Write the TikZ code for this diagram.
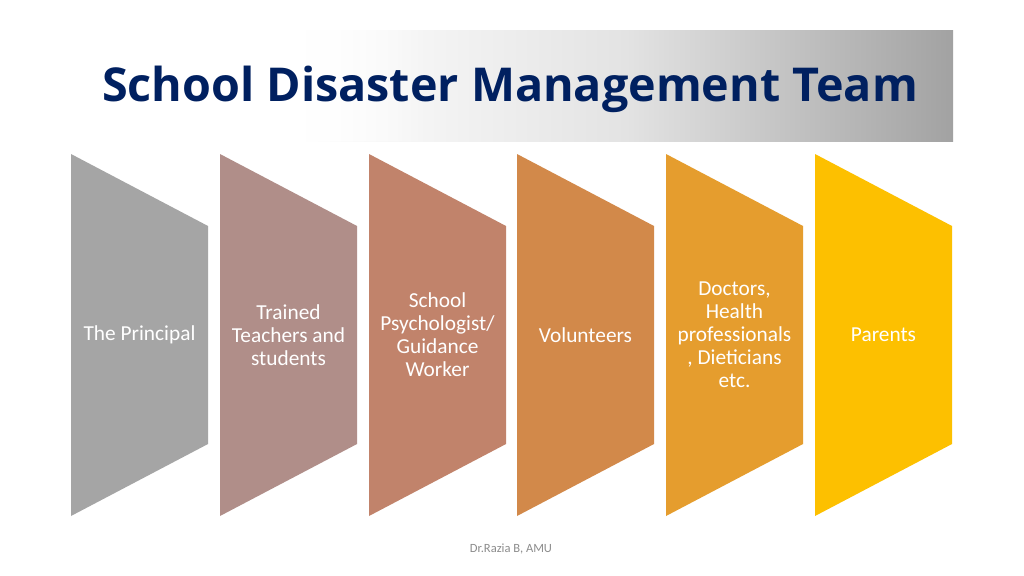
\documentclass[tikz,border=0pt]{standalone}
\usepackage{fontspec}
\usetikzlibrary{fadings}
\setmainfont{Carlito}
\newfontfamily\titlefont{Open Sans}
\definecolor{titleblue}{HTML}{002060}
\definecolor{bandgray}{HTML}{A2A2A2}
\definecolor{cA}{HTML}{A5A5A5}
\definecolor{cB}{HTML}{B08E89}
\definecolor{cC}{HTML}{C1836B}
\definecolor{cD}{HTML}{D2894A}
\definecolor{cE}{HTML}{E59D2E}
\definecolor{cF}{HTML}{FDC000}
\definecolor{footgray}{HTML}{8C8C8C}
\begin{document}
\begin{tikzpicture}[x=0.75pt,y=-0.75pt,
  txtlabel/.style={text=white,font=\fontsize{16}{17.25}\selectfont,align=center,inner sep=0pt}]
\useasboundingbox (0,0) rectangle (1024,575);
\fill[white] (0,0) rectangle (1024,575);
% title band
\shade[shading angle=75,left color=white,right color=bandgray,middle color=gray!22] (300,30) rectangle (953,141);
\fill[white,path fading=east] (300,30) rectangle (430,141);
\node[font=\titlefont\bfseries\fontsize{35}{40}\selectfont,text=titleblue,anchor=base] (title) at (510,101) {School Disaster Management Team};
% chevrons
\foreach \x/\c in {71/cA,220/cB,369/cC,517/cD,666/cE,815/cF}{
  \fill[\c] (\x,154) -- (\x+137,226) -- (\x+137,444) -- (\x,516) -- cycle;
}
\node[txtlabel] (t1) at (139.5,335) {The Principal};
\node[txtlabel] (t2) at (288.5,335) {Trained\\Teachers and\\students};
\node[txtlabel] (t3) at (437.5,335) {School\\Psychologist/\\Guidance\\Worker};
\node[txtlabel] (t4) at (585.5,335) {Volunteers};
\node[txtlabel] (t5) at (734.5,335) {Doctors,\\Health\\professionals\\, Dieticians\\etc.};
\node[txtlabel] (t6) at (883.5,335) {Parents};
\node[font=\fontsize{9.4}{10}\selectfont,text=footgray] (foot) at (511,549) {Dr.Razia B, AMU};
\end{tikzpicture}
\end{document}
